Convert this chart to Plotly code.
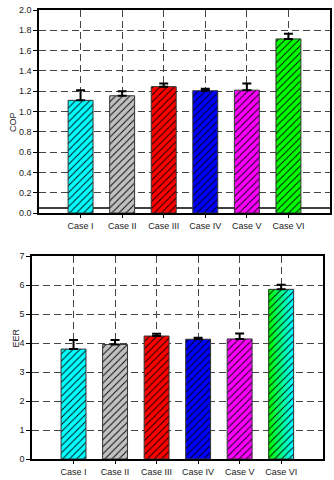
import plotly.graph_objects as go

# data
cases = ["Case I", "Case II", "Case III", "Case IV", "Case V", "Case VI"]
cop = [1.11, 1.155, 1.245, 1.205, 1.21, 1.715]
cop_err = [0.10, 0.045, 0.03, 0.02, 0.065, 0.05]
eer = [3.79, 3.95, 4.24, 4.13, 4.14, 5.85]
eer_err = [0.31, 0.15, 0.08, 0.05, 0.19, 0.16]
cop_ref_line = 0.05

fill_colors = ["#00FFFF", "#C0C0C0", "#FF0000", "#0000FF", "#FF00FF", "#00FF00"]
pos = list(range(1, len(cases) + 1))
BAR_W = 0.6

W, H = 334, 480

fig = go.Figure()


def add_bars(values, errors, xa, ya, colors):
    # one trace per bar so each gets its own hatch background
    for p, v, e, c in zip(pos, values, errors, colors):
        fig.add_trace(go.Bar(
            x=[p], y=[v], xaxis=xa, yaxis=ya, width=BAR_W,
            marker=dict(
                color=c,
                line=dict(color="#333333", width=1),
                pattern=dict(shape="/", fillmode="overlay", bgcolor=c,
                             fgcolor="#000000", fgopacity=1, size=5, solidity=0.18),
            ),
            error_y=dict(type="data", array=[e], arrayminus=[0],
                         color="black", thickness=2, width=4.5),
            showlegend=False, hoverinfo="skip",
        ))


# top: COP
add_bars(cop, cop_err, "x", "y", fill_colors)

# bottom: EER, Case VI has a green -> cyan gradient fill
n_slices = 14
for i in range(n_slices):
    t = i / (n_slices - 1)
    col = "rgb(0,255,%d)" % round(255 * t)
    fig.add_trace(go.Bar(
        x=[pos[-1]], y=[eer[-1]], xaxis="x2", yaxis="y2",
        width=BAR_W / n_slices, offset=-BAR_W / 2 + i * BAR_W / n_slices,
        marker=dict(color=col, line=dict(width=0)),
        showlegend=False, hoverinfo="skip",
    ))
bottom_colors = fill_colors[:-1] + ["rgba(0,0,0,0)"]
add_bars(eer, eer_err, "x2", "y2", bottom_colors)

font = dict(family="Arial, Liberation Sans", size=9, color="#222222")
axis_common = dict(showline=True, linecolor="black", linewidth=1.5, mirror=True,
                   ticks="outside", tickcolor="black", tickfont=font,
                   zeroline=False, showgrid=True, gridcolor="#444444",
                   gridwidth=1, griddash="7px,4px", automargin=False)

fig.update_layout(
    width=W, height=H,
    margin=dict(l=0, r=0, t=0, b=0, autoexpand=False),
    paper_bgcolor="white", plot_bgcolor="white",
    barmode="overlay",
    xaxis=dict(domain=[39 / W, 330 / W], anchor="y", range=[0, 7],
               tickvals=pos, ticktext=cases, ticklen=3, **axis_common),
    yaxis=dict(domain=[1 - 213 / H, 1 - 10 / H], anchor="x", range=[0, 2.0],
               dtick=0.2, tickformat=".1f", ticklen=4, **axis_common),
    xaxis2=dict(domain=[32 / W, 322.7 / W], anchor="y2", range=[0, 7],
                tickvals=pos, ticktext=cases, ticklen=3, **axis_common),
    yaxis2=dict(domain=[1 - 459 / H, 1 - 256 / H], anchor="x2", range=[0, 7],
                dtick=1, ticklen=4, **axis_common),
    annotations=[
        dict(text="COP", textangle=-90, xref="paper", yref="paper",
             x=6 / W, y=1 - 110 / H, showarrow=False, font=font),
        dict(text="EER", textangle=-90, xref="paper", yref="paper",
             x=8 / W, y=1 - 350 / H, showarrow=False, font=font),
    ],
    shapes=[dict(type="line", xref="x", yref="y", x0=0, x1=7,
                 y0=cop_ref_line, y1=cop_ref_line, layer="below",
                 line=dict(color="black", width=1.5))],
)

# drop the default 8px page margin so the figure fills the window
fig.write_html("out.html", config={"displayModeBar": False},
               post_script="document.body.style.margin='0';")
